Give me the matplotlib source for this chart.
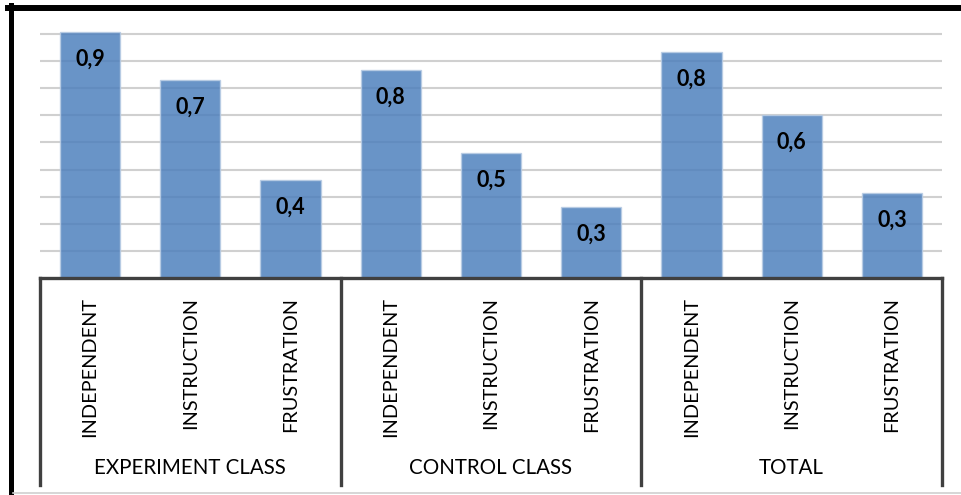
import numpy as np
import matplotlib
matplotlib.use('Agg')
import matplotlib.pyplot as plt
from matplotlib.lines import Line2D

# Values
groups = ['EXPERIMENT CLASS', 'CONTROL CLASS', 'TOTAL']
levels = ['INDEPENDENT', 'INSTRUCTION', 'FRUSTRATION']
values = [0.905, 0.728, 0.362,
          0.765, 0.462, 0.263,
          0.832, 0.600, 0.313]
value_labels = ['0,9', '0,7', '0,4', '0,8', '0,5', '0,3', '0,8', '0,6', '0,3']

plt.rcParams['font.family'] = ['Lato', 'DejaVu Sans']

W, H = 962, 495
fig = plt.figure(figsize=(W / 100, H / 100), dpi=100)

# plot area in pixels: x 40..942, baseline y=278.3, top y=30
ax_left, ax_right = 40, 942
ax_base, ax_top = 278.3, 30
ax = fig.add_axes([ax_left / W, (H - ax_base) / H,
                   (ax_right - ax_left) / W, (ax_base - ax_top) / H])
ax_h = ax_base - ax_top

x = np.arange(len(values))
ax.set_xlim(-0.5, len(values) - 0.5)
ax.set_ylim(0, ax_h / 272)

ax.set_yticks(np.arange(0.1, 0.95, 0.1))
ax.set_yticklabels([])
ax.tick_params(axis='y', length=0)
ax.grid(axis='y', color='#D0D0D0', linewidth=1.5)
ax.set_axisbelow(True)
for s in ax.spines.values():
    s.set_visible(False)

bars = ax.bar(x, values, width=0.6, color='#4F81BD', alpha=0.85,
              edgecolor='#B8CCE4', linewidth=1, zorder=2)

for xi, v, lbl in zip(x, values, value_labels):
    ax.annotate(lbl, xy=(xi, v), xytext=(0, -19.5), textcoords='offset points',
                ha='center', va='center', fontsize=15.5, fontweight='bold',
                color='black')

# category labels
ax.set_xticks(x)
ax.set_xticklabels(levels * len(groups), rotation=90, fontsize=14.3)
ax.tick_params(axis='x', length=0, pad=13.5)

# baseline and group separators
ax.axhline(0, color='#404040', linewidth=2.4, zorder=3, clip_on=False)
sep_bottom = -(485 - ax_base) / ax_h
trans = ax.get_xaxis_transform()
for sx in [-0.5, 2.5, 5.5, 8.5]:
    ax.add_line(Line2D([sx, sx], [0, sep_bottom], transform=trans,
                       color='#404040', linewidth=2.4, clip_on=False))

grp_y = -(468 - ax_base) / ax_h
for gi, g in enumerate(groups):
    ax.text(gi * 3 + 1, grp_y, g, transform=trans, ha='center', va='center',
            fontsize=14.8)

# outer frame
fig.add_artist(Line2D([8 / W, 1], [1 - 8 / H, 1 - 8 / H], transform=fig.transFigure,
                      color='black', linewidth=4.3))
fig.add_artist(Line2D([10.5 / W, 10.5 / W], [0, 1 - 5 / H], transform=fig.transFigure,
                      color='black', linewidth=3.6))
fig.add_artist(Line2D([13 / W, 1], [1 - 493 / H, 1 - 493 / H], transform=fig.transFigure,
                      color='#D0D0D0', linewidth=1.2))

fig.savefig('out.png', dpi=100)
